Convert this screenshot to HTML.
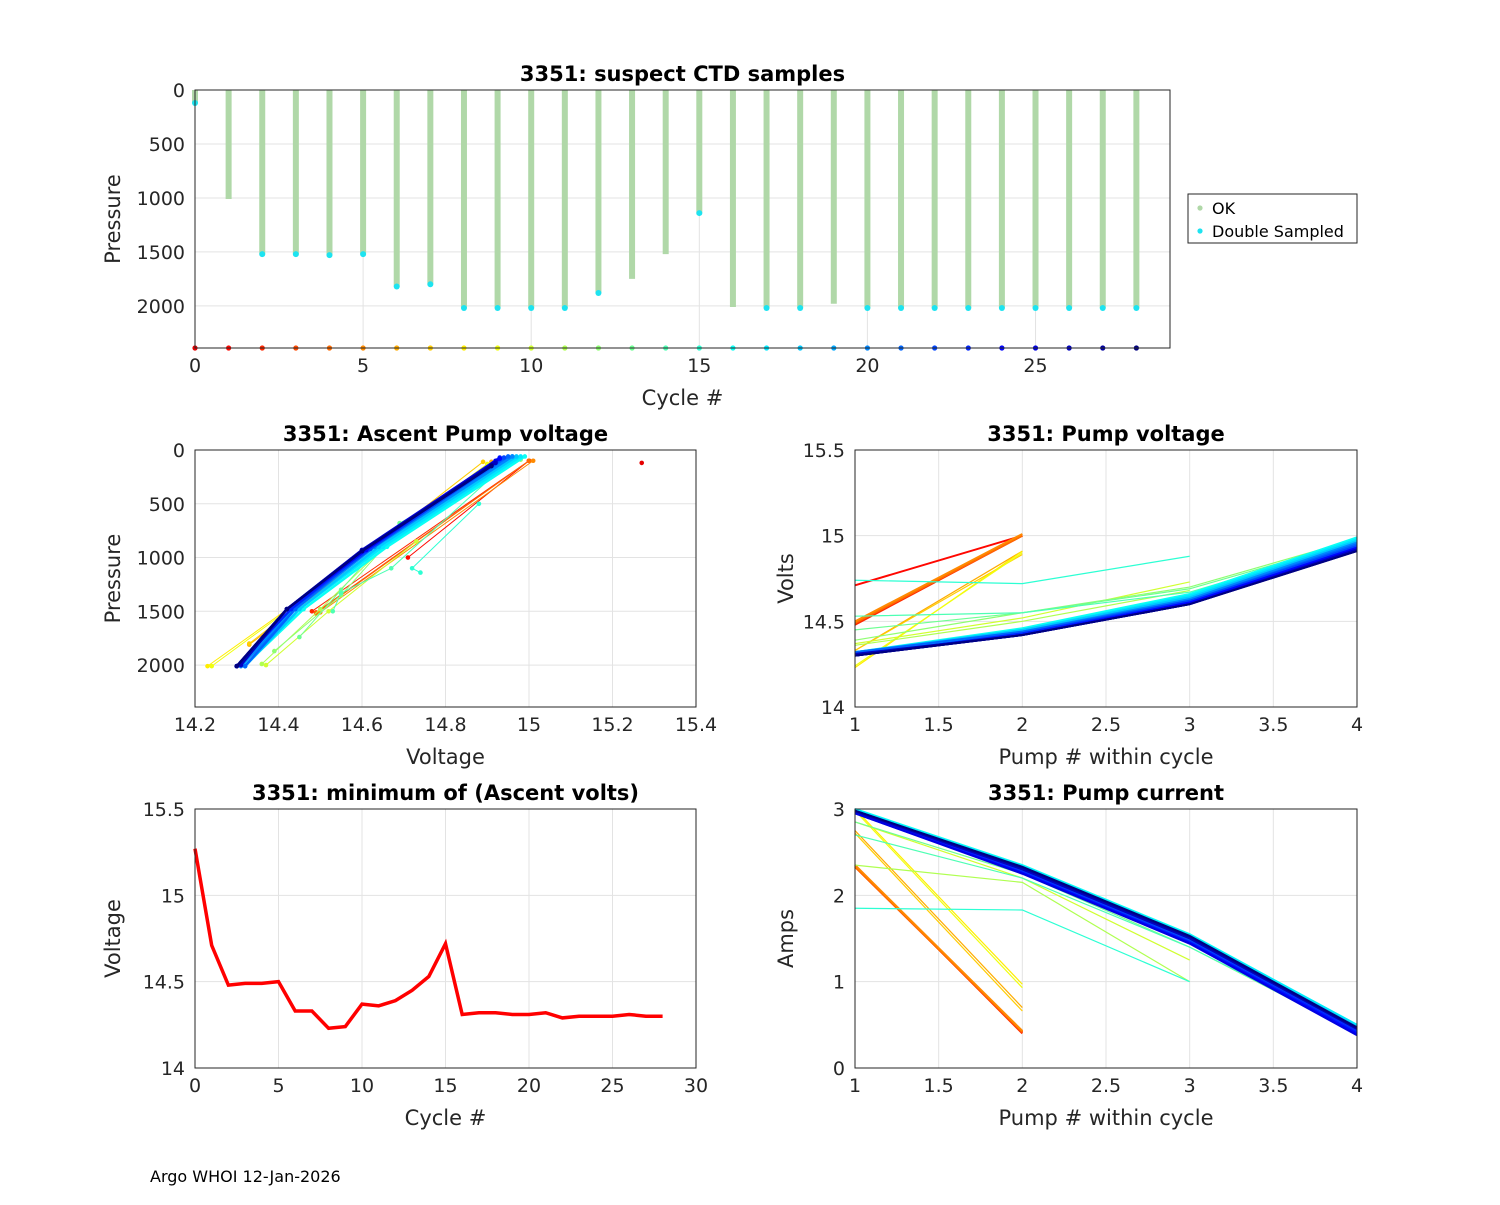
<!DOCTYPE html>
<html><head><meta charset="utf-8"><style>
body{margin:0;background:#fff;}
svg{font-family:"DejaVu Sans","Liberation Sans",sans-serif;}
</style></head><body>
<svg id="fig" width="1500" height="1200" viewBox="0 0 1500 1200">
<rect width="1500" height="1200" fill="#fff"/>
<text x="150" y="1182" font-size="16" fill="#000">Argo WHOI 12-Jan-2026</text>
</svg>
<script>
const cycles=[0,1,2,3,4,5,6,7,8,9,10,11,12,13,14,15,16,17,18,19,20,21,22,23,24,25,26,27,28];
const maxPres=[120,1010,1520,1520,1530,1520,1820,1800,2020,2020,2020,2020,1880,1750,1520,1140,2010,2020,2020,1980,2020,2020,2020,2020,2020,2020,2020,2020,2020];
const doubleSampled=[1,0,1,1,1,1,1,1,1,1,1,1,1,0,0,1,0,1,1,0,1,1,1,1,1,1,1,1,1];
const minVolts=[15.27,14.71,14.48,14.49,14.49,14.5,14.33,14.33,14.23,14.24,14.37,14.36,14.39,14.45,14.53,14.72,14.31,14.32,14.32,14.31,14.31,14.32,14.29,14.3,14.3,14.3,14.31,14.3,14.3];
const pumpVolts=[[15.27],[14.71,15.0],[14.48,15.0],[14.49,15.0],[14.49,15.0],[14.5,15.01],[14.33,14.91],[14.33,14.89],[14.23,14.91],[14.24,14.9],
[14.37,14.52,14.73],[14.36,14.5,14.68],[14.39,14.55,14.7,14.98],[14.45,14.55,14.69,14.97],[14.53,14.55,14.67,14.96],[14.74,14.72,14.88],
[14.32,14.46,14.66,14.99],[14.32,14.45,14.65,14.98],[14.32,14.45,14.64,14.97],[14.31,14.44,14.63,14.96],[14.31,14.44,14.63,14.96],[14.32,14.44,14.62,14.95],
[14.3,14.43,14.62,14.94],[14.3,14.43,14.61,14.93],[14.3,14.42,14.61,14.93],[14.3,14.42,14.6,14.92],[14.31,14.42,14.6,14.92],[14.3,14.42,14.6,14.91],[14.3,14.42,14.6,14.91]];
const pumpPres=[[120],[1000,100],[1500,100],[1510,100],[1520,100],[1510,100],[1810,110],[1800,110],[2010,130],[2010,130],
[2000,1500,850],[1990,1480,800],[1870,1350,700,90],[1740,1300,680,80],[1500,1330,1100,80],[1140,1100,500],
[2000,1480,900,60],[2010,1480,900,60],[2010,1480,900,60],[1980,1470,890,60],[2010,1480,900,60],[2010,1480,900,60],
[2010,1480,920,70],[2010,1480,920,70],[2010,1480,930,80],[2010,1480,930,100],[2000,1480,930,120],[2010,1480,940,140],[2010,1480,940,150]];
const pumpAmps=[[],[2.33,0.42],[2.35,0.4],[2.34,0.41],[2.33,0.42],[2.35,0.43],[2.75,0.7],[2.72,0.66],[3.0,0.97],[2.98,0.93],
[2.85,2.2,1.25],[2.35,2.15,1.0],[2.95,2.3,1.45,0.45],[2.85,2.25,1.4,0.4],[2.7,2.2,1.4,0.42],[1.85,1.83,1.0],
[3.0,2.35,1.55,0.5],[2.99,2.34,1.54,0.5],[2.98,2.33,1.52,0.48],[2.98,2.32,1.5,0.47],[2.97,2.3,1.5,0.46],[2.97,2.3,1.48,0.45],
[2.96,2.28,1.47,0.44],[2.96,2.27,1.46,0.42],[2.95,2.26,1.45,0.4],[2.95,2.25,1.44,0.38],[2.97,2.3,1.5,0.45],[2.98,2.32,1.52,0.46],[2.98,2.33,1.53,0.47]];
const topYTicks=[0,500,1000,1500,2000];
const topXTicks=[0,5,10,15,20,25];
const ascXTicks=[14.2,14.4,14.6,14.8,15,15.2,15.4];
const voltYTicks=[14,14.5,15,15.5];
const pumpXTicks=[1,1.5,2,2.5,3,3.5,4];
const minXTicks=[0,5,10,15,20,25,30];
const ampYTicks=[0,1,2,3];

const NS="http://www.w3.org/2000/svg";
const svg=document.getElementById('fig');
function el(tag,attrs,parent){const e=document.createElementNS(NS,tag);for(const k in attrs)e.setAttribute(k,attrs[k]);(parent||svg).appendChild(e);return e;}
function jet(c){const t=(28-c)/28*0.9;const f=v=>Math.round(255*Math.max(0,Math.min(1,v)));
return `rgb(${f(1.5-Math.abs(4*t-3))},${f(1.5-Math.abs(4*t-2))},${f(1.5-Math.abs(4*t-1))})`;}
function fmt(v){return String(Math.round(v*100)/100);}
function axes(name,b,xd,yd,xt,yt,rev,title,xl,yl){
  const g=el('g',{});
  
  
  const sx=v=>b.x+(v-xd[0])/(xd[1]-xd[0])*b.w;
  const sy=rev?(v=>b.y+(v-yd[0])/(yd[1]-yd[0])*b.h):(v=>b.y+b.h-(v-yd[0])/(yd[1]-yd[0])*b.h);
  el('rect',{x:b.x,y:b.y,width:b.w,height:b.h,fill:'#fff'},g);
  xt.forEach(v=>{const x=sx(v);el('line',{x1:x,x2:x,y1:b.y,y2:b.y+b.h,stroke:'#e3e3e3','stroke-width':1},g);
    const t=el('text',{x:x,y:b.y+b.h+24,'font-size':19,'text-anchor':'middle',fill:'#262626'},g);t.textContent=fmt(v);
    });
  yt.forEach(v=>{const y=sy(v);el('line',{x1:b.x,x2:b.x+b.w,y1:y,y2:y,stroke:'#e3e3e3','stroke-width':1},g);
    const t=el('text',{x:b.x-10,y:y+7,'font-size':19,'text-anchor':'end',fill:'#262626'},g);t.textContent=fmt(v);
    });
  const tt=el('text',{x:b.x+b.w/2,y:b.y-9,'font-size':21,'font-weight':'bold','text-anchor':'middle'},g);tt.textContent=title;
  
  const xa=el('text',{x:b.x+b.w/2,y:b.y+b.h+57,'font-size':21,'text-anchor':'middle',fill:'#262626'},g);xa.textContent=xl;
  
  const yx=b.x-(yl==='Pressure'||yl==='Voltage'?75:62);
  const ya=el('text',{x:yx,y:b.y+b.h/2,'font-size':21,'text-anchor':'middle',fill:'#262626',transform:`rotate(-90 ${yx} ${b.y+b.h/2})`},g);ya.textContent=yl;
  
  const plot=el('g',{},g);
  el('rect',{x:b.x,y:b.y,width:b.w,height:b.h,fill:'none',stroke:'#262626','stroke-width':1},g);
  return {sx,sy,plot};
}
// Top panel
const A1=axes('suspect-ctd-panel',{x:195,y:90,w:975,h:258},[0,29],[0,2390],topXTicks,topYTicks,true,'3351: suspect CTD samples','Cycle #','Pressure');
cycles.forEach((c,i)=>{
  const x=A1.sx(c);
  const b=el('line',{x1:x,x2:x,y1:A1.sy(0),y2:A1.sy(maxPres[i]),stroke:'#b0d8a8','stroke-width':6},A1.plot);
  
  if(doubleSampled[i]){const d=el('circle',{cx:x,cy:A1.sy(maxPres[i]),r:3,fill:'#1de3f0'},A1.plot);
    }
  const p=el('circle',{cx:x,cy:A1.sy(2390),r:2.6,fill:jet(c)},A1.plot);
  
});
// legend
const lg=el('g',{});

el('rect',{x:1188,y:194,width:169,height:49,fill:'#fff',stroke:'#262626','stroke-width':1},lg);
el('circle',{cx:1200,cy:208,r:2.6,fill:'#b0d8a8'},lg);
el('circle',{cx:1200,cy:231,r:2.6,fill:'#1de3f0'},lg);
const l1=el('text',{x:1212,y:214,'font-size':16},lg);l1.textContent='OK';

const l2=el('text',{x:1212,y:237,'font-size':16},lg);l2.textContent='Double Sampled';


// Ascent pump voltage
const A2=axes('ascent-pump-voltage-panel',{x:195,y:450,w:501,h:257},[14.2,15.4],[0,2390],ascXTicks,topYTicks,true,'3351: Ascent Pump voltage','Voltage','Pressure');
cycles.forEach((c,i)=>{
  const pts=pumpVolts[i].map((v,j)=>[A2.sx(v),A2.sy(pumpPres[i][j])]);
  const w=c>=16?2.5:1;
  if(pts.length>1){const l=el('polyline',{points:pts.map(p=>p.join(',')).join(' '),fill:'none',stroke:jet(c),'stroke-width':w},A2.plot);
    }
  pts.forEach(p=>{const d=el('circle',{cx:p[0],cy:p[1],r:2.3,fill:jet(c)},A2.plot);
    });
});
// Pump voltage
const A3=axes('pump-voltage-panel',{x:855,y:450,w:502,h:257},[1,4],[14,15.5],pumpXTicks,voltYTicks,false,'3351: Pump voltage','Pump # within cycle','Volts');
cycles.forEach((c,i)=>{
  const pts=pumpVolts[i].map((v,j)=>[A3.sx(j+1),A3.sy(v)]);
  if(pts.length>1){const l=el('polyline',{points:pts.map(p=>p.join(',')).join(' '),fill:'none',stroke:jet(c),'stroke-width':c>=16||c<6?2:1.2},A3.plot);
    }
});
// Min ascent volts
const A4=axes('min-ascent-volts-panel',{x:195,y:809,w:501,h:259},[0,30],[14,15.5],minXTicks,voltYTicks,false,'3351: minimum of (Ascent volts)','Cycle #','Voltage');
const ml=el('polyline',{points:cycles.map((c,i)=>A4.sx(c)+','+A4.sy(minVolts[i])).join(' '),fill:'none',stroke:'#ff0000','stroke-width':3.5},A4.plot);

// Pump current
const A5=axes('pump-current-panel',{x:855,y:809,w:502,h:259},[1,4],[0,3],pumpXTicks,ampYTicks,false,'3351: Pump current','Pump # within cycle','Amps');
cycles.forEach((c,i)=>{
  const pts=pumpAmps[i].map((v,j)=>[A5.sx(j+1),A5.sy(v)]);
  if(pts.length>1){const l=el('polyline',{points:pts.map(p=>p.join(',')).join(' '),fill:'none',stroke:jet(c),'stroke-width':c>=16||c<6?2:1.2},A5.plot);
    }
});
</script>
</body></html>
